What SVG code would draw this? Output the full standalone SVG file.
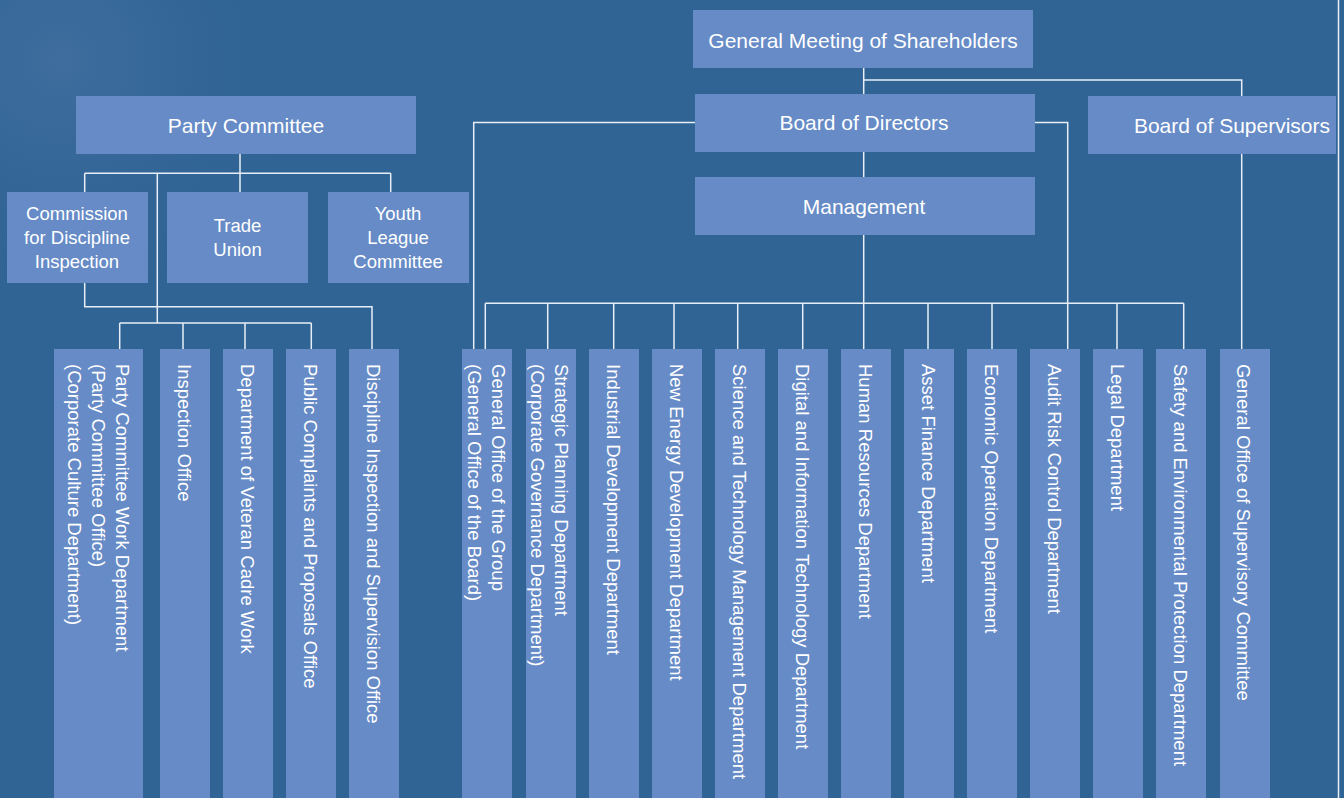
<svg xmlns="http://www.w3.org/2000/svg" width="1344" height="798" viewBox="0 0 1344 798">
<defs>
<radialGradient id="glow" cx="60" cy="60" r="260" gradientUnits="userSpaceOnUse">
<stop offset="0" stop-color="#5a7fb0" stop-opacity="0.35"/>
<stop offset="1" stop-color="#306495" stop-opacity="0"/>
</radialGradient>
<style>
.box{fill:#668bc6}
.t{font-family:"Liberation Sans",Arial,sans-serif;fill:#ffffff}
.h{font-size:21px;text-anchor:middle}
.m{font-size:18.5px;text-anchor:middle}
.v{font-size:18.5px}
.ln{fill:none;stroke:#e8eef6;stroke-width:1.5}
</style>
</defs>
<rect x="0" y="0" width="1344" height="798" fill="#306495"/>
<rect x="0" y="0" width="1344" height="798" fill="url(#glow)"/>

<g id="connectors" class="ln">
<path d="M240,154 V173.3 M84.7,173.3 H390.7 M84.7,173.3 V192 M240,173.3 V192 M390.7,173.3 V192"/>
<path d="M157.3,173.3 V323 M119.7,323 H311.3 M119.7,323 V349 M183,323 V349 M245,323 V349 M311.3,323 V349"/>
<path d="M84.7,283 V306.7 H372 V349"/>
<path d="M863.7,68 V94 M863.7,152 V177 M863.7,235 V349"/>
<path d="M863.7,80 H1241.7 V96 M1241.7,154 V349"/>
<path d="M695,122.5 H473.7 V349 M1035,122.5 H1067.7 V349"/>
<path d="M485.3,303.3 H1183.7 M485.3,303.3 V349 M547.7,303.3 V349 M613.7,303.3 V349 M674,303.3 V349 M737.7,303.3 V349 M802.7,303.3 V349 M928,303.3 V349 M992,303.3 V349 M1117,303.3 V349 M1183.7,303.3 V349"/>
<path d="M1338.5,0 V798"/>
</g>

<g id="gms"><rect class="box" x="693" y="10" width="340" height="58"/><text class="t h" x="863" y="47.5">General Meeting of Shareholders</text></g>
<g id="bod"><rect class="box" x="695" y="94" width="340" height="58"/><text class="t h" x="864" y="130">Board of Directors</text></g>
<g id="mgmt"><rect class="box" x="695" y="177" width="340" height="58"/><text class="t h" x="864" y="213.5">Management</text></g>
<g id="bos"><rect class="box" x="1088" y="96" width="248" height="58"/><text class="t h" x="1232" y="132.5">Board of Supervisors</text></g>
<g id="party"><rect class="box" x="76" y="96" width="340" height="58"/><text class="t h" x="246" y="132.5">Party Committee</text></g>
<g id="cdi"><rect class="box" x="7" y="192" width="141" height="91"/><text class="t m" x="77" y="220">Commission</text><text class="t m" x="77" y="244">for Discipline</text><text class="t m" x="77" y="268">Inspection</text></g>
<g id="tu"><rect class="box" x="167" y="192" width="141" height="91"/><text class="t m" x="237.5" y="232">Trade</text><text class="t m" x="237.5" y="256">Union</text></g>
<g id="ylc"><rect class="box" x="328" y="192" width="141" height="91"/><text class="t m" x="398" y="220">Youth</text><text class="t m" x="398" y="244">League</text><text class="t m" x="398" y="268">Committee</text></g>

<g id="d-pcwd"><rect class="box" x="54" y="349" width="89" height="449"/>
<text class="t v" transform="translate(115.5,364) rotate(90)">Party Committee Work Department</text>
<text class="t v" transform="translate(91.5,364) rotate(90)">(Party Committee Office)</text>
<text class="t v" transform="translate(67.5,364) rotate(90)">(Corporate Culture Department)</text></g>
<g id="d-insp"><rect class="box" x="160" y="349" width="50" height="449"/><text class="t v" transform="translate(177.5,364) rotate(90)">Inspection Office</text></g>
<g id="d-vet"><rect class="box" x="223" y="349" width="50" height="449"/><text class="t v" transform="translate(240.5,364) rotate(90)">Department of Veteran Cadre Work</text></g>
<g id="d-pub"><rect class="box" x="286" y="349" width="50" height="449"/><text class="t v" transform="translate(303.5,364) rotate(90)">Public Complaints and Proposals Office</text></g>
<g id="d-disc"><rect class="box" x="349" y="349" width="50" height="449"/><text class="t v" transform="translate(366.5,364) rotate(90)">Discipline Inspection and Supervision Office</text></g>

<g id="d-gog"><rect class="box" x="462" y="349" width="50" height="449"/>
<text class="t v" transform="translate(491.5,364) rotate(90)">General Office of the Group</text>
<text class="t v" transform="translate(467.5,364) rotate(90)">(General Office of the Board)</text></g>
<g id="d-spd"><rect class="box" x="526" y="349" width="50" height="449"/>
<text class="t v" transform="translate(555,364) rotate(90)">Strategic Planning Department</text>
<text class="t v" transform="translate(531,364) rotate(90)">(Corporate Governance Department)</text></g>
<g id="d-ind"><rect class="box" x="589" y="349" width="50" height="449"/><text class="t v" transform="translate(606.5,364) rotate(90)">Industrial Development Department</text></g>
<g id="d-ned"><rect class="box" x="652" y="349" width="50" height="449"/><text class="t v" transform="translate(669.5,364) rotate(90)">New Energy Development Department</text></g>
<g id="d-stm"><rect class="box" x="715" y="349" width="50" height="449"/><text class="t v" transform="translate(732.5,364) rotate(90)">Science and Technology Management Department</text></g>
<g id="d-dit"><rect class="box" x="778" y="349" width="50" height="449"/><text class="t v" transform="translate(795.5,364) rotate(90)">Digital and Information Technology Department</text></g>
<g id="d-hr"><rect class="box" x="841" y="349" width="50" height="449"/><text class="t v" transform="translate(858.5,364) rotate(90)">Human Resources Department</text></g>
<g id="d-af"><rect class="box" x="904" y="349" width="50" height="449"/><text class="t v" transform="translate(921.5,364) rotate(90)">Asset Finance Department</text></g>
<g id="d-eo"><rect class="box" x="967" y="349" width="50" height="449"/><text class="t v" transform="translate(984.5,364) rotate(90)">Economic Operation Department</text></g>
<g id="d-arc"><rect class="box" x="1030" y="349" width="50" height="449"/><text class="t v" transform="translate(1047.5,364) rotate(90)">Audit Risk Control Department</text></g>
<g id="d-legal"><rect class="box" x="1093" y="349" width="50" height="449"/><text class="t v" transform="translate(1110.5,364) rotate(90)">Legal Department</text></g>
<g id="d-sep"><rect class="box" x="1156" y="349" width="50" height="449"/><text class="t v" transform="translate(1173.5,364) rotate(90)">Safety and Environmental Protection Department</text></g>
<g id="d-gosc"><rect class="box" x="1220" y="349" width="50" height="449"/><text class="t v" transform="translate(1237,364) rotate(90)">General Office of Supervisory Committee</text></g>
</svg>
